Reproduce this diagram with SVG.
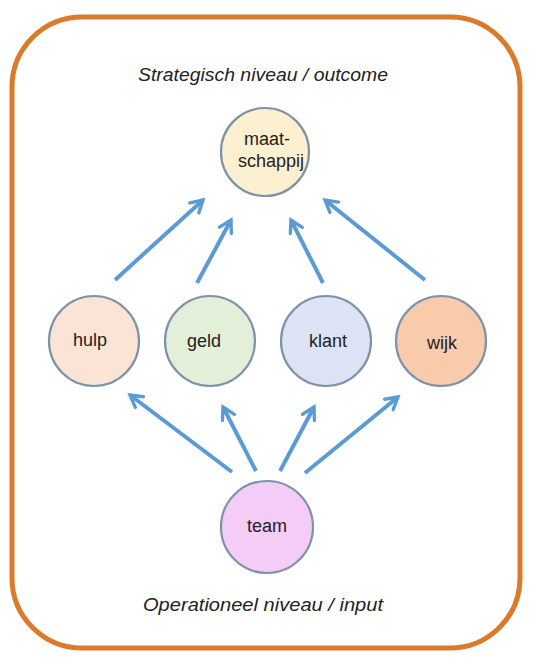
<svg xmlns="http://www.w3.org/2000/svg" width="535" height="657" viewBox="0 0 535 657">
<defs>
<marker id="ah" viewBox="0 0 10 10" refX="8" refY="5" markerWidth="4.2" markerHeight="4.2" orient="auto" markerUnits="strokeWidth">
<path d="M1,1 L8,5 L1,9" fill="none" stroke="#5B9BD5" stroke-width="2" stroke-linecap="round" stroke-linejoin="miter"/>
</marker>
<style>
.n{stroke:#7E93A8;stroke-width:2.2}
.t{font-family:"Liberation Sans",Arial,sans-serif;font-size:18px;fill:#222;text-anchor:middle}
.h{font-family:"Liberation Sans",Arial,sans-serif;font-size:19px;font-style:italic;fill:#222;text-anchor:middle}
.c line{stroke:#5B9BD5;stroke-width:4;marker-end:url(#ah)}
</style>
</defs>
<rect x="0" y="0" width="535" height="657" fill="#fff"/>
<rect id="frame" x="12" y="17" width="508" height="631" rx="70" ry="70" fill="#fff" stroke="#DA7A2A" stroke-width="5"/>
<text class="h" x="263" y="81" textLength="250" lengthAdjust="spacingAndGlyphs">Strategisch niveau / outcome</text>
<text class="h" x="263" y="611" textLength="240" lengthAdjust="spacingAndGlyphs">Operationeel niveau / input</text>
<g class="c" id="connectors">
<line x1="115" y1="280" x2="203" y2="200"/>
<line x1="197" y1="283" x2="231" y2="220"/>
<line x1="323" y1="283" x2="291" y2="220"/>
<line x1="425" y1="280" x2="325" y2="200"/>
<line x1="232" y1="472" x2="130" y2="395"/>
<line x1="256" y1="471" x2="223" y2="407"/>
<line x1="280" y1="471" x2="314" y2="407"/>
<line x1="305" y1="473" x2="398" y2="397"/>
</g>
<g id="maatschappij"><circle class="n" cx="265" cy="152" r="44" fill="#FDF0D0"/><text class="t" x="244" y="145" style="text-anchor:start">maat-</text><text class="t" x="238" y="167" style="text-anchor:start">schappij</text></g>
<g id="hulp"><circle class="n" cx="94" cy="341" r="45" fill="#FBE4D6"/><text class="t" x="90" y="346">hulp</text></g>
<g id="geld"><circle class="n" cx="210" cy="341" r="45" fill="#E3EFD9"/><text class="t" x="204" y="347">geld</text></g>
<g id="klant"><circle class="n" cx="326" cy="341" r="45" fill="#DCE3F4"/><text class="t" x="328" y="347">klant</text></g>
<g id="wijk"><circle class="n" cx="441" cy="341" r="45" fill="#F8CBAD"/><text class="t" x="442" y="349">wijk</text></g>
<g id="team"><circle class="n" cx="267" cy="527" r="46" fill="#F4CCF6"/><text class="t" x="267" y="532">team</text></g>
</svg>
